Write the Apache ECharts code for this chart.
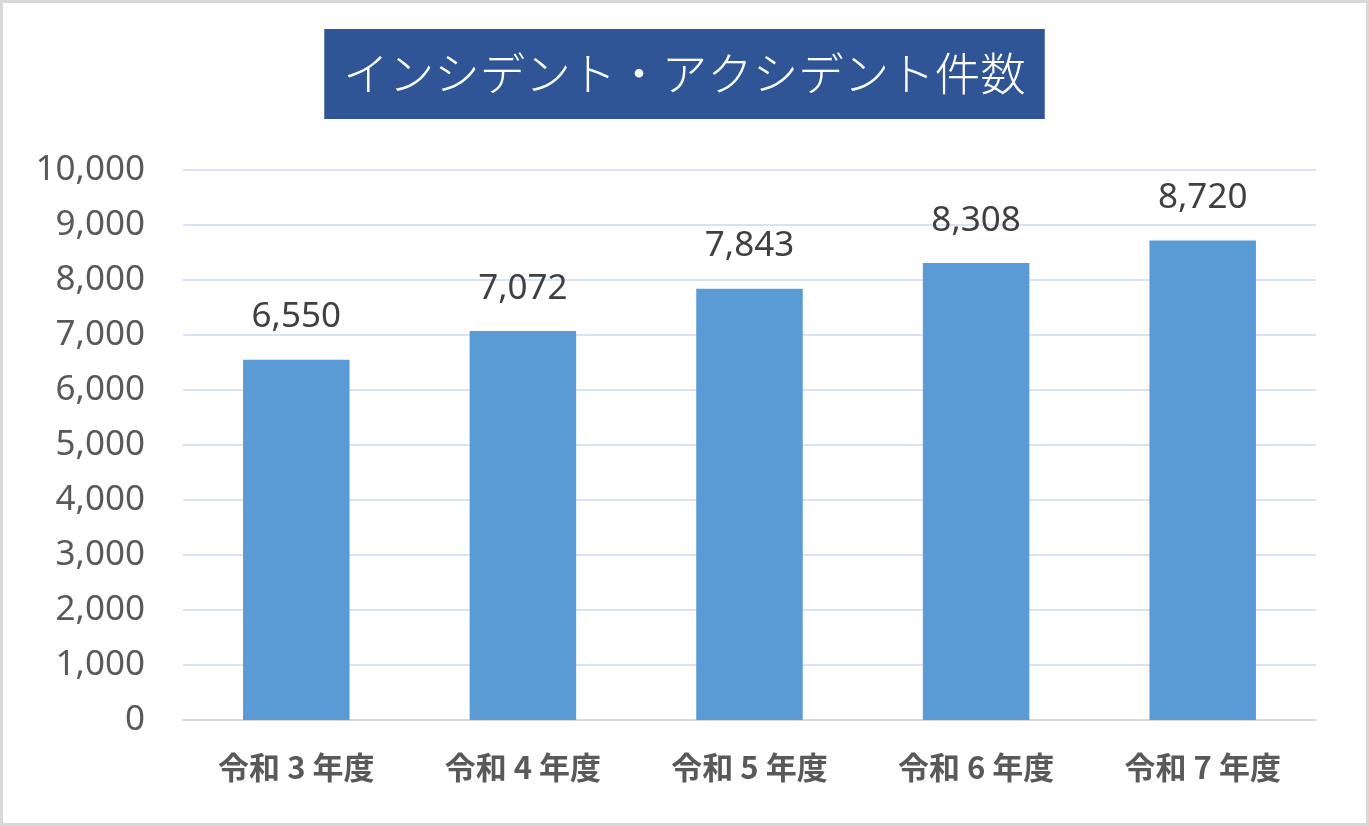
<!DOCTYPE html>
<html>
<head>
<meta charset="utf-8">
<script src="https://cdn.jsdelivr.net/npm/echarts@6/dist/echarts.min.js"></script>
<style>
  html, body { margin: 0; padding: 0; background: #fff; }
  #pic1 { width: 1369px; height: 826px; }
</style>
</head>
<body>
<div id="pic1"></div>
<script>
var categories = ['令和 3 年度', '令和 4 年度', '令和 5 年度', '令和 6 年度', '令和 7 年度'];
var counts = [6550, 7072, 7843, 8308, 8720];
var yMin = 0, yMax = 10000, yStep = 1000;

var myChart = echarts.init(document.getElementById('pic1'));

var option = {
    backgroundColor: '#fff',
    animation: false,
    title: {
        text: 'インシデント・アクシデント件数',
        left: 'center',
        top: 29,
        padding: [22, 19, 22, 19],
        backgroundColor: '#2F5597',
        textStyle: {
            color: '#fff',
            fontFamily: 'Noto Sans CJK JP',
            fontWeight: 300,
            fontSize: 45.5,
            lineHeight: 46
        }
    },
    graphic: [{
        type: 'rect',
        shape: { x: 1.5, y: 1.5, width: 1366, height: 823 },
        style: { fill: 'none', stroke: '#d9d9d9', lineWidth: 3 },
        silent: true
    }],
    grid: { left: 183, right: 53, top: 170, bottom: 106 },
    xAxis: {
        type: 'category',
        data: categories,
        axisLine: { lineStyle: { color: '#d9d9d9', width: 2 } },
        axisTick: { show: false },
        axisLabel: {
            color: '#595959',
            fontFamily: 'Noto Sans CJK JP',
            fontWeight: 'bold',
            fontSize: 31,
            margin: 32
        }
    },
    yAxis: {
        type: 'value',
        min: yMin,
        max: yMax,
        interval: yStep,
        axisLine: { show: false },
        axisTick: { show: false },
        splitLine: { lineStyle: { color: '#dae3f3', width: 2 } },
        axisLabel: {
            color: '#595959',
            fontFamily: 'Noto Sans',
            fontSize: 35,
            margin: 38,
            formatter: function (v) { return v.toLocaleString('en-US'); }
        }
    },
    series: [{
        type: 'bar',
        data: counts,
        barWidth: '47%',
        itemStyle: { color: '#5B9BD5' },
        label: {
            show: true,
            position: 'top',
            distance: 25,
            color: '#404040',
            fontFamily: 'Noto Sans',
            fontSize: 35,
            formatter: function (p) { return p.value.toLocaleString('en-US'); }
        }
    }]
};

myChart.setOption(option);
</script>
</body>
</html>
